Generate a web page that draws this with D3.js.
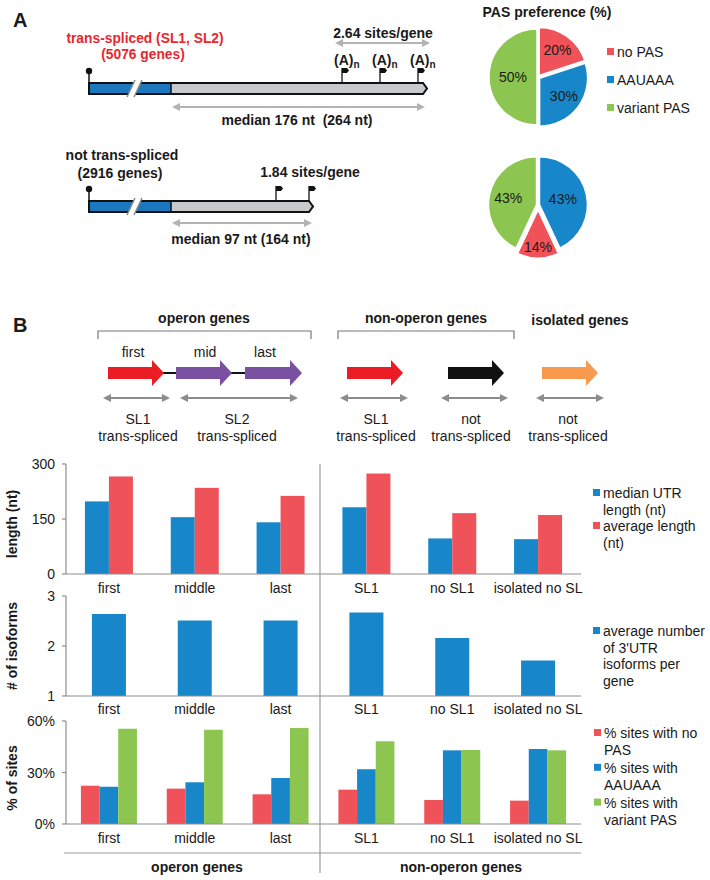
<!DOCTYPE html>
<html><head><meta charset="utf-8">
<script src="https://cdn.jsdelivr.net/npm/d3@7"></script>
<style>body{margin:0;background:#fff} svg{display:block;font-family:"Liberation Sans",Arial,Helvetica,sans-serif}</style>
</head><body>
<svg id="fig" width="710" height="880"></svg>
<script>
// ---------- data ----------
const categories = ["first", "middle", "last", "SL1", "no SL1", "isolated no SL"];
const medianLength = [198, 155, 141, 182, 97, 95];
const averageLength = [266, 235, 213, 274, 166, 161];
const isoformCount = [2.64, 2.51, 2.51, 2.67, 2.16, 1.71];
const pctNoPAS = [22.3, 20.6, 17.3, 20.0, 14.0, 13.6];
const pctAAUAAA = [21.7, 24.3, 26.8, 31.9, 42.9, 43.7];
const pctVariant = [55.5, 54.9, 55.9, 48.2, 43.1, 42.9];
const lengthTicks = [0, 150, 300];
const isoTicks = [1, 2, 3];
const pctTicks = [0, 30, 60];
const pieLabels = ["no PAS", "AAUAAA", "variant PAS"];
const pieTransSpliced = [{k: "no PAS", v: 20}, {k: "AAUAAA", v: 30}, {k: "variant PAS", v: 50}];
const pieNotTransSpliced = [{k: "AAUAAA", v: 43}, {k: "no PAS", v: 14}, {k: "variant PAS", v: 43}];

const C = {blue: "#1787c9", red: "#f05259", green: "#8cc550", axis: "#8e8e8e", txt: "#1a1a1a"};
const pieColor = d3.scaleOrdinal().domain(pieLabels).range([C.red, C.blue, C.green]);

const svg = d3.select("#fig");

function text(x, y, s, o = {}) {
  return svg.append("text").attr("x", x).attr("y", y)
    .attr("text-anchor", o.anchor || "middle")
    .attr("font-size", o.size || 14)
    .attr("font-weight", o.bold ? "bold" : "normal")
    .attr("fill", o.fill || C.txt).text(s);
}
function dblArrow(x1, x2, y, color) {
  svg.append("line").attr("x1", x1 + 5).attr("x2", x2 - 5).attr("y1", y).attr("y2", y)
    .attr("stroke", color).attr("stroke-width", 2);
  svg.append("path").attr("d", `M${x1},${y}L${x1 + 8},${y - 4}L${x1 + 8},${y + 4}Z`).attr("fill", color);
  svg.append("path").attr("d", `M${x2},${y}L${x2 - 8},${y - 4}L${x2 - 8},${y + 4}Z`).attr("fill", color);
}

// ---------- Panel A ----------
text(13, 27, "A", {anchor: "start", size: 20, bold: true});
text(145, 43, "trans-spliced (SL1, SL2)", {bold: true, fill: "#e8262e", size: 13.8});
text(143, 58.5, "(5076 genes)", {bold: true, fill: "#e8262e", size: 13.8});
text(383, 38, "2.64 sites/gene", {bold: true});

function gene(y0, xEnd, flags) {
  const h = 11, xs = 89, xb = 171;
  svg.append("rect").attr("x", xs).attr("y", y0).attr("width", xb - xs).attr("height", h).attr("fill", "#1b78be");
  svg.append("path").attr("d", `M${xb},${y0}H${xEnd}L${xEnd + 4},${y0 + h / 2}L${xEnd},${y0 + h}H${xb}Z`).attr("fill", "#c8c9cb");
  svg.append("path").attr("d", `M${xs},${y0}H${xEnd}L${xEnd + 4},${y0 + h / 2}L${xEnd},${y0 + h}H${xs}Z`)
    .attr("fill", "none").attr("stroke", "#111").attr("stroke-width", 2);
  svg.append("line").attr("x1", xb).attr("x2", xb).attr("y1", y0).attr("y2", y0 + h).attr("stroke", "#111").attr("stroke-width", 1.5);
  // break
  svg.append("path").attr("d", `M127,${y0 + h + 3}L135,${y0 - 3}L142,${y0 - 3}L134,${y0 + h + 3}Z`).attr("fill", "#fff");
  svg.append("path").attr("d", `M127,${y0 + h + 3}L135,${y0 - 3}M134,${y0 + h + 3}L142,${y0 - 3}`)
    .attr("stroke", "#8a8a8a").attr("stroke-width", 1.5).attr("fill", "none");
  // cap
  svg.append("line").attr("x1", xs).attr("x2", xs).attr("y1", y0).attr("y2", y0 - 12).attr("stroke", "#111").attr("stroke-width", 1.5);
  svg.append("circle").attr("cx", xs).attr("cy", y0 - 12).attr("r", 3.2).attr("fill", "#111");
  flags.forEach(fx => {
    svg.append("line").attr("x1", fx).attr("x2", fx).attr("y1", y0).attr("y2", y0 - 15).attr("stroke", "#111").attr("stroke-width", 1.3);
    svg.append("path").attr("d", `M${fx},${y0 - 15}H${fx + 5}L${fx + 7},${y0 - 12.5}L${fx + 5},${y0 - 10}H${fx}Z`).attr("fill", "#111");
  });
}
gene(83, 423, [342, 380, 418]);
[342, 380, 418].forEach(fx => {
  const t = svg.append("text").attr("x", fx - 8).attr("y", 65).attr("font-size", 14).attr("font-weight", "bold").attr("fill", C.txt);
  t.append("tspan").text("(A)");
  t.append("tspan").attr("font-size", 10).attr("dy", 3).text("n");
});
dblArrow(335, 430, 43, "#b3b3b3");
dblArrow(172, 425, 107, "#b3b3b3");
text(297, 125, "median 176 nt\u00a0\u00a0(264 nt)", {bold: true});

text(122, 160, "not trans-spliced", {bold: true});
text(120, 178, "(2916 genes)", {bold: true});
text(310, 177, "1.84 sites/gene", {bold: true});
gene(201, 309, [276, 309]);
dblArrow(172, 312, 223, "#b3b3b3");
text(241, 244, "median 97 nt (164 nt)", {bold: true});

// pies
text(547, 17, "PAS preference (%)", {bold: true});
const pie = d3.pie().value(d => d.v).sort(null);
const arc = d3.arc().innerRadius(0).outerRadius(48);
function drawPie(data, cx, cy, explode, labelR) {
  const g = svg.append("g").attr("transform", `translate(${cx},${cy})`);
  pie(data).forEach((a, i) => {
    const m = (a.startAngle + a.endAngle) / 2, e = explode[i];
    const gg = g.append("g").attr("transform", `translate(${Math.sin(m) * e},${-Math.cos(m) * e})`);
    gg.append("path").attr("d", arc(a)).attr("fill", pieColor(a.data.k)).attr("stroke", "#fff").attr("stroke-width", 1.5);
    const c = d3.arc().innerRadius(labelR[i]).outerRadius(labelR[i]).centroid(a);
    gg.append("text").attr("x", c[0]).attr("y", c[1] + 5).attr("text-anchor", "middle")
      .attr("font-size", 14).attr("fill", C.txt).text(a.data.v + "%");
  });
}
drawPie(pieTransSpliced, 538, 77, [2, 2, 1], [31, 30, 24]);
drawPie(pieNotTransSpliced, 538, 205, [1.5, 5, 1.5], [24, 37, 29]);
pieLabels.forEach((k, i) => {
  svg.append("rect").attr("x", 607).attr("y", 48 + i * 28).attr("width", 7).attr("height", 7).attr("fill", pieColor(k));
  text(617, 57 + i * 28, k, {anchor: "start"});
});

// ---------- Panel B diagram ----------
text(13, 332, "B", {anchor: "start", size: 20, bold: true});
text(204, 323, "operon genes", {bold: true});
text(426, 323, "non-operon genes", {bold: true});
text(580, 325, "isolated genes", {bold: true});
function bracket(x1, x2) {
  svg.append("path").attr("d", `M${x1},339V331H${x2}V339`).attr("fill", "none").attr("stroke", "#777").attr("stroke-width", 1.2);
}
bracket(98, 311); bracket(338, 514);
text(133, 357, "first"); text(205, 357, "mid"); text(265, 357, "last");
function geneArrow(x0, tip, color) {
  const yc = 373;
  svg.append("path").attr("d", `M${x0},${yc - 6}H${tip - 12}V${yc - 13}L${tip},${yc}L${tip - 12},${yc + 13}V${yc + 6}H${x0}Z`).attr("fill", color);
}
svg.append("line").attr("x1", 160).attr("x2", 177).attr("y1", 373).attr("y2", 373).attr("stroke", "#111").attr("stroke-width", 2);
svg.append("line").attr("x1", 228).attr("x2", 246).attr("y1", 373).attr("y2", 373).attr("stroke", "#111").attr("stroke-width", 2);
geneArrow(108, 164, "#ec1c24");
geneArrow(176, 232, "#7a50a1");
geneArrow(245, 302, "#7a50a1");
geneArrow(347, 403, "#ec1c24");
geneArrow(448, 504, "#111111");
geneArrow(542, 598, "#f79a4d");
[[103, 170], [180, 298], [340, 408], [441, 508], [536, 604]].forEach(p => dblArrow(p[0], p[1], 398, "#8c8c8c"));
[[138, "SL1"], [237, "SL2"], [376, "SL1"], [471, "not"], [568, "not"]].forEach(p => {
  text(p[0], 424, p[1]);
  text(p[0], 441, "trans-spliced");
});

// ---------- Bar charts ----------
const x = d3.scaleBand().domain(categories).range([66, 581]);
const xc = c => x(c) + x.bandwidth() / 2;

function axes(y, ticks, fmt, yTop, yBot, labelY, title, titleY) {
  svg.append("line").attr("x1", 66).attr("x2", 66).attr("y1", yTop).attr("y2", yBot).attr("stroke", C.axis).attr("stroke-width", 1.2);
  svg.append("line").attr("x1", 66).attr("x2", 581).attr("y1", yBot).attr("y2", yBot).attr("stroke", C.axis).attr("stroke-width", 1.2);
  ticks.forEach(t => {
    svg.append("line").attr("x1", 62).attr("x2", 66).attr("y1", y(t)).attr("y2", y(t)).attr("stroke", C.axis).attr("stroke-width", 1.2);
    text(55, y(t) + 5, fmt(t), {anchor: "end"});
  });
  categories.forEach(c => text(xc(c), labelY, c));
  svg.append("text").attr("transform", `translate(17,${titleY}) rotate(-90)`).attr("text-anchor", "middle")
    .attr("font-size", 14).attr("font-weight", "bold").attr("fill", C.txt).text(title);
}
function legend(items, x0, y0, lh) {
  let line = 0;
  items.forEach(it => {
    svg.append("rect").attr("x", x0).attr("y", y0 + line * lh - 9).attr("width", 7).attr("height", 7).attr("fill", it.color);
    it.lines.forEach(s => { text(x0 + 10, y0 + line * lh, s, {anchor: "start"}); line++; });
  });
}

// chart 1: length
const y1 = d3.scaleLinear().domain([0, 300]).range([574, 464]);
const s1 = d3.scaleBand().domain(["median", "average"]).range([-24, 24]);
categories.forEach((c, i) => {
  [["median", medianLength[i], C.blue], ["average", averageLength[i], C.red]].forEach(([k, v, col]) => {
    svg.append("rect").attr("x", xc(c) + s1(k)).attr("width", s1.bandwidth())
      .attr("y", y1(v)).attr("height", y1(0) - y1(v)).attr("fill", col);
  });
});
axes(y1, lengthTicks, d => d, 464, 574, 593, "length (nt)", 524);
legend([{color: C.blue, lines: ["median UTR", "length (nt)"]}, {color: C.red, lines: ["average length", "(nt)"]}], 593, 498, 16.5);

// chart 2: isoforms
const y2 = d3.scaleLinear().domain([1, 3]).range([696, 596]);
categories.forEach((c, i) => {
  svg.append("rect").attr("x", xc(c) - 17).attr("width", 34)
    .attr("y", y2(isoformCount[i])).attr("height", y2(1) - y2(isoformCount[i])).attr("fill", C.blue);
});
axes(y2, isoTicks, d => d, 596, 696, 714, "# of isoforms", 646);
legend([{color: C.blue, lines: ["average number", "of 3'UTR", "isoforms per", "gene"]}], 593, 636, 16.5);

// chart 3: % of sites
const y3 = d3.scaleLinear().domain([0, 60]).range([824, 721]);
const s3 = d3.scaleBand().domain(["no", "aau", "var"]).range([-28, 28]);
categories.forEach((c, i) => {
  [["no", pctNoPAS[i], C.red], ["aau", pctAAUAAA[i], C.blue], ["var", pctVariant[i], C.green]].forEach(([k, v, col]) => {
    svg.append("rect").attr("x", xc(c) + s3(k)).attr("width", s3.bandwidth())
      .attr("y", y3(v)).attr("height", y3(0) - y3(v)).attr("fill", col);
  });
});
axes(y3, pctTicks, d => d + "%", 721, 824, 843, "% of sites", 778);
legend([{color: C.red, lines: ["% sites with no", "PAS"]}, {color: C.blue, lines: ["% sites with", "AAUAAA"]},
        {color: C.green, lines: ["% sites with", "variant PAS"]}], 594, 738, 17.4);

// group separator and bottom brackets
svg.append("line").attr("x1", 320).attr("x2", 320).attr("y1", 464).attr("y2", 873).attr("stroke", "#9a9a9a").attr("stroke-width", 1.2);
svg.append("line").attr("x1", 64).attr("x2", 581).attr("y1", 853).attr("y2", 853).attr("stroke", "#9a9a9a").attr("stroke-width", 1.2);
text(197, 872, "operon genes", {bold: true});
text(461, 872, "non-operon genes", {bold: true});
</script>
</body></html>
